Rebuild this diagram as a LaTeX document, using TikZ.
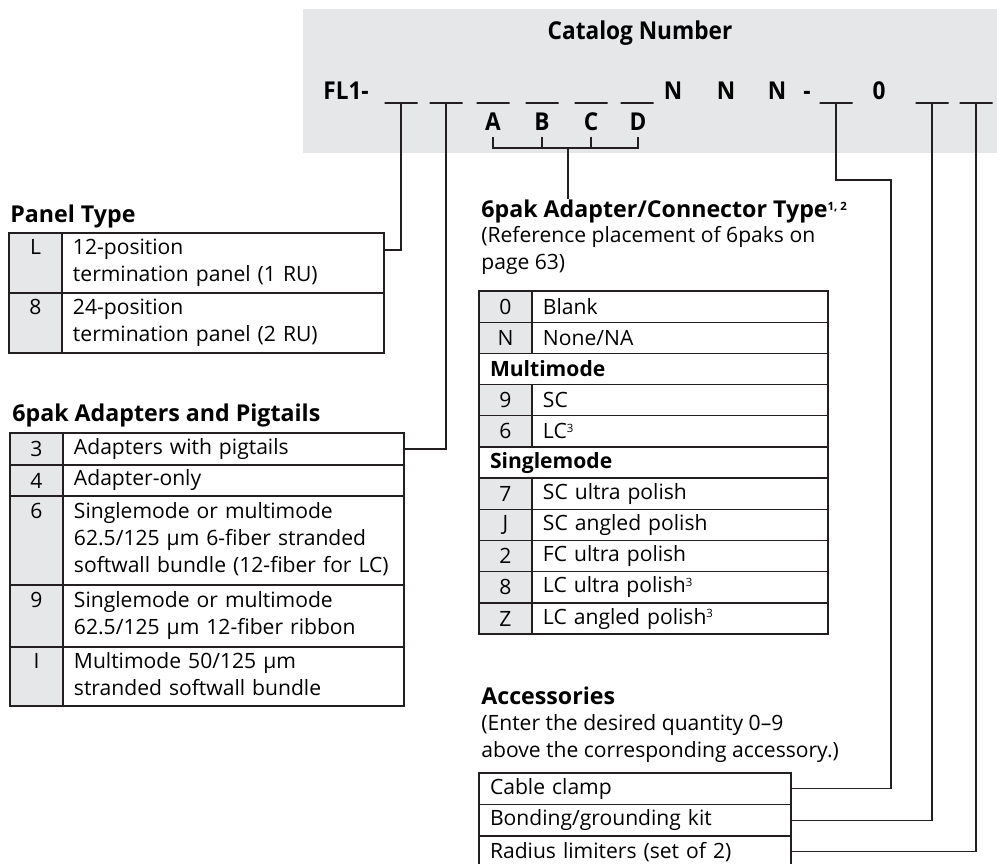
\documentclass[tikz,border=0pt]{standalone}
\usepackage{fontspec}
\setmainfont{Open Sans}
\newfontfamily\condfont[FakeStretch=0.92]{Open Sans}
\usepackage{tikz}
\usetikzlibrary{positioning}
\definecolor{rule}{HTML}{231F20}
\definecolor{cellgray}{HTML}{E6E7E8}
\definecolor{bandgray}{HTML}{E6E7E8}
\newcommand\bodyfont{\fontsize{12}{15.3}\selectfont}
\newcommand\headfont{\fontsize{13.2}{15.5}\selectfont\bfseries}
\newcommand\catfont{\condfont\bfseries\fontsize{14}{16}\selectfont}
\newcommand\fnote[1]{\raisebox{3.8pt}{\fontsize{6.5}{6.5}\selectfont #1}}
\tikzset{
  code/.style ={draw=rule,fill=cellgray,line width=0.8pt,outer sep=0pt,
                inner sep=0pt,minimum width=1.06cm,align=center,font=\bodyfont},
  desc/.style ={draw=rule,line width=0.8pt,outer sep=0pt,inner xsep=0.22cm,
                inner ysep=0pt,align=left,font=\bodyfont},
  sect/.style ={desc,font=\bodyfont\bfseries,anchor=north west},
  head/.style ={font=\headfont,inner sep=0pt,anchor=base west},
  note/.style ={font=\bodyfont,inner sep=0pt,anchor=base west,align=left},
  cat/.style  ={font=\catfont,inner sep=0pt},
  blank/.style={draw=rule,line width=0.8pt,minimum width=0.66cm,
                minimum height=0pt,inner sep=0pt,outer sep=0pt},
  letter/.style={font=\catfont,inner sep=3.5pt,anchor=base},
  wire/.style ={draw=rule,line width=0.8pt}
}
\begin{document}
\begin{tikzpicture}[x=0.02cm,y=-0.02cm]
  \useasboundingbox (0,0) rectangle (997,863);
  \clip (0,0) rectangle (997,863);
  % catalog number band
  \fill[bandgray] (303,9) rectangle (997,153);
  \node[cat] (title) at (640,33) {Catalog Number};
  \node[cat,anchor=base west] (fl) at (323,99) {FL1-};
  \node[cat,anchor=base] (n1) at (673,99) {N};
  \node[cat,anchor=base] (n2) at (726,99) {N};
  \node[cat,anchor=base] (n3) at (777,99) {N};
  \node[cat,anchor=base] (dsh) at (807,99) {-};
  \node[cat,anchor=base] (zero) at (879,99) {0};
  \node[blank] (b1) at (401,103) {};
  \node[blank] (b2) at (446,103) {};
  \node[blank] (b3) at (493,103) {};
  \node[blank] (b4) at (542,103) {};
  \node[blank] (b5) at (591,103) {};
  \node[blank] (b6) at (637,103) {};
  \node[blank] (b7) at (836,103) {};
  \node[blank] (b8) at (932,103) {};
  \node[blank] (b9) at (976,103) {};
  \node[letter] (lA) at (493,130) {A};
  \node[letter] (lB) at (542,130) {B};
  \node[letter] (lC) at (591,130) {C};
  \node[letter] (lD) at (638,130) {D};
  \coordinate (brk) at (568,148);
  \coordinate (kink) at (891,180);

  % panel type
  \node[head] (pthead) at (10,222) {Panel Type};
  \node[code,minimum height=1.2cm,anchor=north west] (pL) at (9,233) {\strut L\\\strut};
  \node[desc,minimum height=1.2cm,text width=6.0cm,right=0pt of pL] (pLd)
       {\strut 12-position\\termination panel (1 RU)\strut};
  \node[code,minimum height=1.2cm,below=0pt of pL] (p8) {\strut 8\\\strut};
  \node[desc,minimum height=1.2cm,text width=6.0cm,right=0pt of p8] (p8d)
       {\strut 24-position\\termination panel (2 RU)\strut};

  % adapters and pigtails
  \node[head] (adhead) at (12,421) {6pak Adapters and Pigtails};
  \node[code,minimum height=0.64cm,anchor=north west] (a3) at (10,433) {3};
  \node[desc,minimum height=0.64cm,text width=6.38cm,right=0pt of a3] (a3d) {Adapters with pigtails};
  \node[code,minimum height=0.62cm,below=0pt of a3] (a4) {4};
  \node[desc,minimum height=0.62cm,text width=6.38cm,right=0pt of a4] (a4d) {Adapter-only};
  \node[code,minimum height=1.78cm,below=0pt of a4] (a6) {\strut 6\\\strut\\\strut};
  \node[desc,minimum height=1.78cm,text width=6.38cm,right=0pt of a6] (a6d)
       {\strut Singlemode or multimode\\62.5/125 µm 6-fiber stranded\\softwall bundle (12-fiber for LC)\strut};
  \node[code,minimum height=1.24cm,below=0pt of a6] (a9) {\strut 9\\\strut};
  \node[desc,minimum height=1.24cm,text width=6.38cm,right=0pt of a9] (a9d)
       {\strut Singlemode or multimode\\62.5/125 µm 12-fiber ribbon\strut};
  \node[code,minimum height=1.18cm,below=0pt of a9] (aI) {\strut I\\\strut};
  \node[desc,minimum height=1.18cm,text width=6.38cm,right=0pt of aI] (aId)
       {\strut Multimode 50/125 µm\\stranded softwall bundle\strut};

  % adapter/connector type
  \node[head] (cthead) at (481,217) {6pak Adapter/Connector Type\fnote{1, 2}};
  \node[note] (ctnote) at (481,269) {(Reference placement of 6paks on\\page 63)};
  \node[code,minimum height=0.624cm,anchor=north west] (c0) at (479,291) {0};
  \node[desc,minimum height=0.624cm,text width=5.48cm,right=0pt of c0] (c0d) {Blank};
  \node[code,minimum height=0.624cm,below=0pt of c0] (cN) {N};
  \node[desc,minimum height=0.624cm,text width=5.48cm,right=0pt of cN] (cNd) {None/NA};
  \node[sect,minimum height=0.624cm,text width=6.54cm] (mm) at (cN.south west) {Multimode};
  \node[code,minimum height=0.624cm,anchor=north west] (c9) at (mm.south west) {9};
  \node[desc,minimum height=0.624cm,text width=5.48cm,right=0pt of c9] (c9d) {SC};
  \node[code,minimum height=0.624cm,below=0pt of c9] (c6) {6};
  \node[desc,minimum height=0.624cm,text width=5.48cm,right=0pt of c6] (c6d) {LC\fnote{3}};
  \node[sect,minimum height=0.624cm,text width=6.54cm] (sm) at (c6.south west) {Singlemode};
  \node[code,minimum height=0.624cm,anchor=north west] (c7) at (sm.south west) {7};
  \node[desc,minimum height=0.624cm,text width=5.48cm,right=0pt of c7] (c7d) {SC ultra polish};
  \node[code,minimum height=0.624cm,below=0pt of c7] (cJ) {J};
  \node[desc,minimum height=0.624cm,text width=5.48cm,right=0pt of cJ] (cJd) {SC angled polish};
  \node[code,minimum height=0.624cm,below=0pt of cJ] (c2) {2};
  \node[desc,minimum height=0.624cm,text width=5.48cm,right=0pt of c2] (c2d) {FC ultra polish};
  \node[code,minimum height=0.624cm,below=0pt of c2] (c8) {8};
  \node[desc,minimum height=0.624cm,text width=5.48cm,right=0pt of c8] (c8d) {LC ultra polish\fnote{3}};
  \node[code,minimum height=0.624cm,below=0pt of c8] (cZ) {Z};
  \node[desc,minimum height=0.624cm,text width=5.48cm,right=0pt of cZ] (cZd) {LC angled polish\fnote{3}};

  % accessories
  \node[head] (achead) at (481,704) {Accessories};
  \node[note] (acnote) at (481,757) {(Enter the desired quantity 0–9\\above the corresponding accessory.)};
  \node[sect,font=\bodyfont,minimum height=0.63cm,text width=5.8cm] (acc1) at (479,773) {Cable clamp};
  \node[sect,font=\bodyfont,minimum height=0.63cm,text width=5.8cm] (acc2) at (acc1.south west) {Bonding/grounding kit};
  \node[sect,font=\bodyfont,minimum height=0.63cm,text width=5.8cm] (acc3) at (acc2.south west) {Radius limiters (set of 2)};

  % connectors
  \draw[wire] (b1) |- ([yshift=-0.34cm]pLd.north east);
  \draw[wire] (b2) |- (a3d.east);
  \draw[wire] (lA) -- (lA |- brk) -- (lD |- brk) -- (lD);
  \draw[wire] (lB) -- (lB |- brk);
  \draw[wire] (lC) -- (lC |- brk);
  \draw[wire] (brk) -- (brk |- cthead.north);
  \draw[wire] (b7) |- (kink) |- (acc1.east);
  \draw[wire] (b8) |- (acc2.east);
  \draw[wire] (b9) |- (acc3.east);
\end{tikzpicture}
\end{document}
